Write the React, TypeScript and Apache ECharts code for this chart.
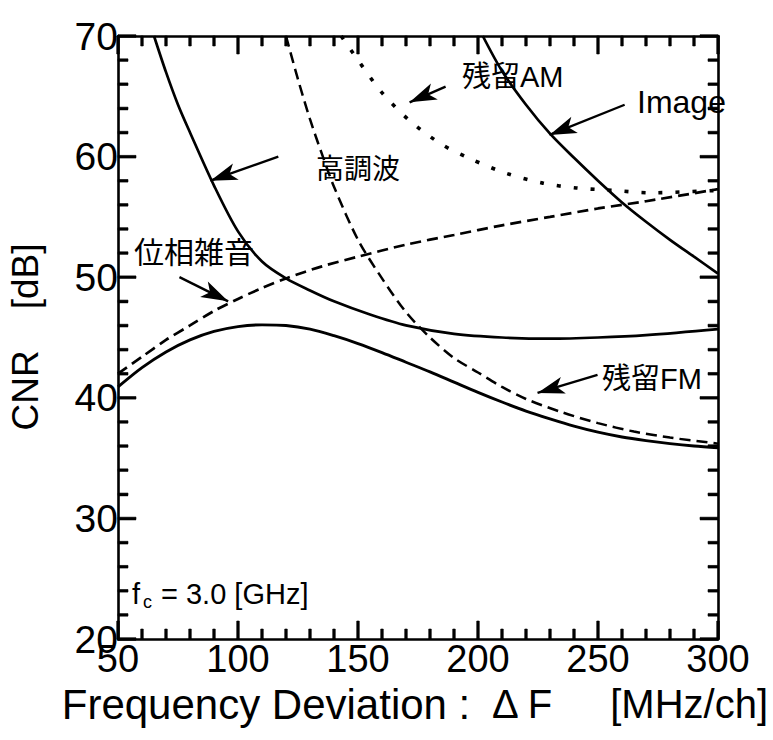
import React, { useEffect, useRef } from "react";
import * as echarts from "echarts";

// CNR [dB] versus frequency deviation ΔF [MHz/ch], fc = 3.0 GHz
const harmonic: number[][] = [
  [65, 70], [70, 67], [75, 64.3], [80, 62], [90, 57.6], [100, 53.8], [110, 51.3],
  [120, 49.9], [130, 48.9], [140, 48], [155, 46.9], [170, 46], [190, 45.3],
  [210, 45], [230, 44.9], [250, 45], [270, 45.2], [300, 45.7],
];
const imageNoise: number[][] = [
  [202, 70], [210, 67.1], [220, 64.3], [230, 61.9], [240, 59.9], [250, 58],
  [260, 56.2], [270, 54.6], [280, 53.1], [290, 51.7], [300, 50.3],
];
const residualAM: number[][] = [
  [143, 70], [150, 68], [160, 65.3], [172, 62.9], [185, 61], [197, 59.8], [212, 58.6],
  [227, 57.8], [241, 57.4], [256, 57.2], [272, 57], [300, 57.2],
];
const phaseNoise: number[][] = [
  [50, 42], [60, 43.4], [70, 44.8], [80, 46], [90, 47.2], [100, 48.2], [110, 49.1],
  [120, 49.9], [135, 50.9], [150, 51.7], [170, 52.7], [190, 53.5], [210, 54.3],
  [230, 55], [250, 55.7], [270, 56.3], [300, 57.3],
];
const residualFM: number[][] = [
  [120, 70], [125, 66.4], [130, 63.1], [135, 60.2], [140, 57.5], [150, 53.1],
  [160, 49.9], [170, 47.1], [180, 45], [190, 43.3], [200, 42.1], [210, 40.9],
  [220, 39.9], [235, 38.8], [250, 37.9], [265, 37.2], [280, 36.7], [300, 36.2],
];
const totalCNR: number[][] = [
  [50, 40.9], [60, 42.5], [70, 43.8], [80, 44.8], [90, 45.5], [100, 45.9],
  [110, 46.05], [120, 46], [130, 45.7], [140, 45.15], [150, 44.5], [160, 43.75],
  [170, 42.95], [180, 42.15], [190, 41.3], [200, 40.45], [210, 39.65], [220, 38.9],
  [230, 38.25], [240, 37.65], [250, 37.15], [260, 36.75], [270, 36.45], [280, 36.2],
  [290, 36], [300, 35.85],
];

// label arrows: [tail, head] in data coordinates
const arrows: number[][][] = [
  [[116.8, 60.0], [88.5, 58.0]],   // 高調波
  [[75.6, 50.0], [95.9, 48.0]],    // 位相雑音
  [[186.5, 65.8], [171.5, 64.5]],  // 残留AM
  [[261.1, 64.3], [229.8, 61.8]],  // Image
  [[249.8, 41.9], [224.8, 40.4]],  // 残留FM
];

const X_MIN = 50, X_MAX = 300, X_STEP = 50, X_MINOR = 10;
const Y_MIN = 20, Y_MAX = 70, Y_STEP = 10, Y_MINOR = 2;

const W = 773, H = 740;
const GRID = { left: 118, right: 55, top: 36, bottom: 101 };
const TICK_MAJOR = 18, TICK_MINOR = 10, TICK_W = 2.4;

const LATIN = '"Liberation Sans", Arial, Helvetica, sans-serif';
const MIXED = '"Liberation Sans", "Noto Sans CJK JP", sans-serif';
const INK = "#000";

// tick table: [value, side (0 bottom, 1 top, 2 left, 3 right), major]
const tickRows: number[][] = [];
for (let v = X_MIN; v <= X_MAX; v += X_MINOR) {
  const major = (v - X_MIN) % X_STEP === 0 ? 1 : 0;
  tickRows.push([v, 0, major], [v, 1, major]);
}
for (let v = Y_MIN; v <= Y_MAX; v += Y_MINOR) {
  const major = (v - Y_MIN) % Y_STEP === 0 ? 1 : 0;
  tickRows.push([v, 2, major], [v, 3, major]);
}

const axis = (min: number, max: number, interval: number, position: string, label: any) => ({
  type: "value",
  position,
  min,
  max,
  interval,
  axisLine: { show: true, onZero: false, lineStyle: { color: INK, width: 2.6 } },
  axisTick: { show: true, inside: true, length: TICK_MAJOR, lineStyle: { color: INK, width: TICK_W } },
  minorTick: { show: true, splitNumber: 5, length: TICK_MINOR, lineStyle: { color: INK, width: TICK_W } },
  splitLine: { show: false },
  minorSplitLine: { show: false },
  axisLabel: label,
});

const labelText = (text: string, x: number, y: number, size: number, font = MIXED) => ({
  type: "text", x, y, silent: true,
  style: { text, fill: INK, fontSize: size, fontFamily: font, align: "left", verticalAlign: "middle" },
});

const captions = [
  labelText("残留AM", 462, 77, 29),
  labelText("Image", 637, 102, 32, LATIN),
  labelText("高調波", 316, 169, 28),
  labelText("位相雑音", 134, 252, 30),
  labelText("残留FM", 602, 379, 29),
  labelText("f", 132, 594, 29, LATIN),
  labelText("c", 143, 602, 18, LATIN),
  labelText("= 3.0 [GHz]", 161, 594, 29, LATIN),
  {
    type: "text", x: 25, y: 337, rotation: Math.PI / 2, silent: true,
    style: {
      text: "CNR    [dB]", fill: INK, fontSize: 37, fontFamily: LATIN,
      align: "center", verticalAlign: "middle",
    },
  },
  {
    type: "text", x: 266, y: 704, silent: true,
    style: {
      text: "Frequency Deviation :", fill: INK, fontSize: 42, fontFamily: LATIN,
      align: "center", verticalAlign: "middle",
    },
  },
  labelText("Δ F", 492, 704, 40, LATIN),
  {
    type: "text", x: 768, y: 704, silent: true,
    style: {
      text: "[MHz/ch]", fill: INK, fontSize: 40, fontFamily: LATIN,
      align: "right", verticalAlign: "middle",
    },
  },
];

export default function App() {
  const ref = useRef<HTMLDivElement>(null);

  useEffect(() => {
    if (!ref.current) return;
    const chart = echarts.init(ref.current, undefined, { renderer: "svg" });

    const curve = (name: string, data: number[][], type: any, width = 2.7) => ({
      name, type: "line", data, smooth: 0.3, showSymbol: false, silent: true,
      lineStyle: { color: INK, width, type, cap: "butt" },
      z: 3,
    });

    chart.setOption({
      animation: false,
      backgroundColor: "#fff",
      grid: { ...GRID, containLabel: false },
      xAxis: [
        axis(X_MIN, X_MAX, X_STEP, "bottom", { show: true, color: INK, fontSize: 38, fontFamily: LATIN, margin: 1 }),
        axis(X_MIN, X_MAX, X_STEP, "top", { show: false }),
      ],
      yAxis: [
        axis(Y_MIN, Y_MAX, Y_STEP, "left", { show: true, color: INK, fontSize: 39, fontFamily: LATIN, margin: 0 }),
        axis(Y_MIN, Y_MAX, Y_STEP, "right", { show: false }),
      ],
      series: [
        // inward tick marks, drawn as filled polygons through the axes' scales
        {
          type: "custom",
          name: "frame ticks",
          silent: true,
          clip: false,
          z: 20,
          data: tickRows.map((r) => [r[0], (Y_MIN + Y_MAX) / 2, r[1], r[2]]),
          encode: { x: 0, y: 1 },
          renderItem: (_p: any, api: any) => {
            const v = api.value(0);
            const side = api.value(2);
            const len = api.value(3) === 1 ? TICK_MAJOR : TICK_MINOR;
            const h = TICK_W / 2;
            let pts: number[][];
            if (side === 0 || side === 1) {
              const p = api.coord([v, side === 0 ? Y_MIN : Y_MAX]);
              const d = side === 0 ? -len : len;
              pts = [[p[0] - h, p[1]], [p[0] + h, p[1]], [p[0] + h, p[1] + d], [p[0] - h, p[1] + d]];
            } else {
              const p = api.coord([side === 2 ? X_MIN : X_MAX, v]);
              const d = side === 2 ? len : -len;
              pts = [[p[0], p[1] - h], [p[0], p[1] + h], [p[0] + d, p[1] + h], [p[0] + d, p[1] - h]];
            }
            return { type: "polygon", shape: { points: pts }, style: { fill: INK, stroke: INK, lineWidth: 0.6 } };
          },
        },
        curve("高調波", harmonic, "solid"),
        curve("Image", imageNoise, "solid"),
        curve("残留AM", residualAM, [4, 13], 3.6),
        curve("位相雑音", phaseNoise, [11, 6], 2.7),
        curve("残留FM", residualFM, [11, 6], 2.5),
        {
          ...curve("CNR", totalCNR, "solid", 2.9),
          markLine: {
            silent: true,
            animation: false,
            symbol: ["none", "arrow"],
            symbolSize: [13, 27],
            label: { show: false },
            lineStyle: { color: INK, width: 2.4, type: "solid" },
            emphasis: { disabled: true },
            data: arrows.map(([a, b]) => [{ coord: a }, { coord: b }]),
          },
        },
      ],
      graphic: captions,
    });

    return () => chart.dispose();
  }, []);

  return (
    <div
      ref={ref}
      style={{ position: "fixed", left: 0, top: 0, width: W, height: H, background: "#fff" }}
    />
  );
}
